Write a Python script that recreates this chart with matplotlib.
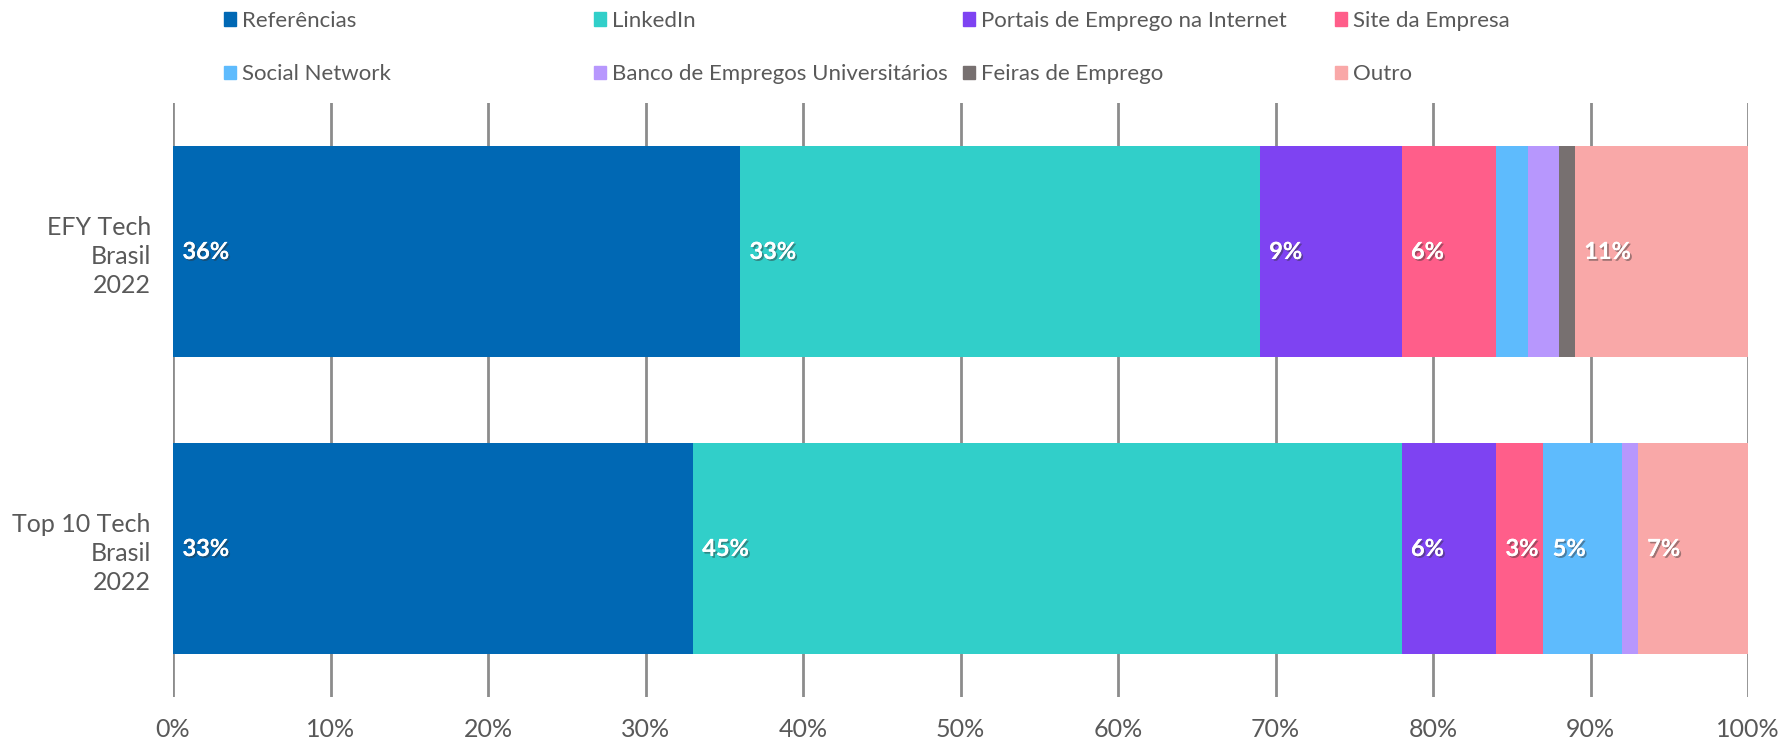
import matplotlib.pyplot as plt
import matplotlib.patches as patches
import matplotlib.patheffects as pe
import numpy as np

# ── DATA ───────────────────────────────────────────────────
groups = ['EFY Tech\nBrasil\n2022', 'Top 10 Tech\nBrasil\n2022']
series = ['Referências', 'LinkedIn', 'Portais de Emprego na Internet', 'Site da Empresa',
          'Social Network', 'Banco de Empregos Universitários', 'Feiras de Emprego', 'Outro']
efy   = [36, 33, 9, 6, 2, 2, 1, 11]
top10 = [33, 45, 6, 3, 5, 1, 0, 7]
colors = ['#0068B4', '#31CFC9', '#7E43F2', '#FF5E8A',
          '#5EBBFD', '#B797FD', '#777070', '#F9A8A8']

FONT = 'Lato'
TXT = '#595959'
GRID = '#8c8c8c'
W, H = 1785, 740

values = np.array([efy, top10])

fig = plt.figure(figsize=(W / 100, H / 100), dpi=100)
ax = fig.add_axes([173 / W, (H - 697) / H, (1748 - 173) / W, (697 - 103) / H])

y = np.arange(len(groups))
left = np.zeros(len(groups))
for j, name in enumerate(series):
    vals = values[:, j]
    ax.barh(y, vals, left=left, height=0.71, color=colors[j], zorder=2, label=name)
    for i, v in enumerate(vals):
        if v >= 3:
            ax.text(left[i] + 0.6, y[i], f'{v}%', ha='left', va='center',
                    color='white', fontsize=17, fontweight='bold', fontfamily=FONT,
                    zorder=3,
                    path_effects=[pe.withSimplePatchShadow(offset=(1.3, -1.3),
                                                           shadow_rgbFace='#333333',
                                                           alpha=0.45),
                                  pe.Normal()])
    left += vals

ax.set_xlim(0, 100)
ax.set_ylim(1.5, -0.5)
ax.set_xticks(np.arange(0, 101, 10))
ax.set_xticklabels([f'{t}%' for t in range(0, 101, 10)])
ax.set_yticks(y)
ax.set_yticklabels(groups, linespacing=1.3)
ax.grid(axis='x', color=GRID, linewidth=2, zorder=0)
ax.set_axisbelow(True)
for s in ax.spines.values():
    s.set_visible(False)
ax.tick_params(axis='both', length=0, labelcolor=TXT)
ax.tick_params(axis='x', labelsize=18, pad=15)
ax.tick_params(axis='y', labelsize=18, pad=16)
for lbl in ax.get_xticklabels() + ax.get_yticklabels():
    lbl.set_fontfamily(FONT)

# legend: 4 columns, 2 rows, each column its own legend so spacing is even
handles, labels = ax.get_legend_handles_labels()
col_x = [224, 594, 963, 1335]
for c in range(4):
    idx = [c, c + 4]
    hs = [patches.Patch(color=colors[k]) for k in idx]
    leg = fig.legend(hs, [labels[k] for k in idx], loc='upper left',
                     bbox_to_anchor=(col_x[c] / W, 1 - 11 / H),
                     frameon=False, handlelength=0.55, handleheight=0.55,
                     handletextpad=0.25, labelspacing=1.5, borderpad=0,
                     borderaxespad=0, prop={'family': FONT, 'size': 16})
    for t in leg.get_texts():
        t.set_color(TXT)

fig.savefig('out.png', dpi=100, facecolor='white')
